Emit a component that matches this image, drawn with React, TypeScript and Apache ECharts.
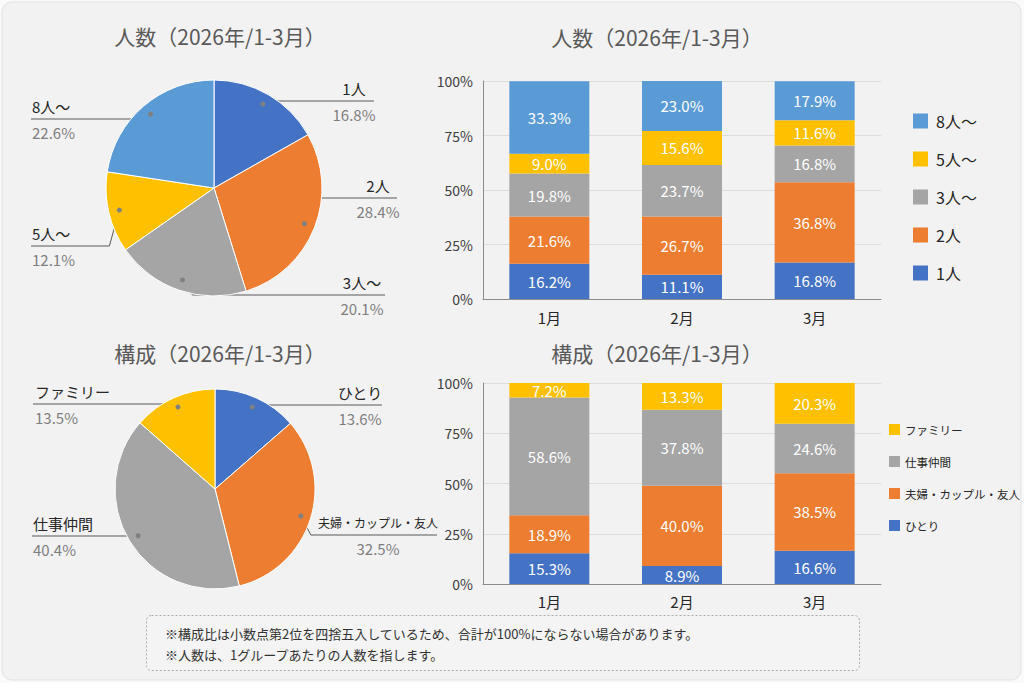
import React, { useEffect, useRef } from 'react';
import * as echarts from 'echarts';

// ---------- data ----------
const months = ['1月', '2月', '3月'];

const sizeNames = ['1人', '2人', '3人〜', '5人〜', '8人〜'];
const sizePieValues = [16.8, 28.4, 20.1, 12.1, 22.6];
const size1 = [16.2, 11.1, 16.8];
const size2 = [21.6, 26.7, 36.8];
const size3 = [19.8, 23.7, 16.8];
const size5 = [9.0, 15.6, 11.6];
const size8 = [33.3, 23.0, 17.9];

const compNames = ['ひとり', '夫婦・カップル・友人', '仕事仲間', 'ファミリー'];
const compPieValues = [13.6, 32.5, 40.4, 13.5];
const compSolo = [15.3, 8.9, 16.6];
const compCouple = [18.9, 40.0, 38.5];
const compWork = [58.6, 37.8, 24.6];
const compFamily = [7.2, 13.3, 20.3];

const titleSize = '人数（2026年/1-3月）';
const titleComp = '構成（2026年/1-3月）';
const notes = [
  '※構成比は小数点第2位を四捨五入しているため、合計が100%にならない場合があります。',
  '※人数は、1グループあたりの人数を指します。',
];

// ---------- styles / layout ----------
const FONT = "'Noto Sans CJK JP', 'Noto Sans', sans-serif";
const C_BLUE = '#4472C4';
const C_ORANGE = '#ED7D31';
const C_GRAY = '#A5A5A5';
const C_YELLOW = '#FFC000';
const C_LBLUE = '#5B9BD5';

const sizeColors = [C_BLUE, C_ORANGE, C_GRAY, C_YELLOW, C_LBLUE];
const compColors = [C_BLUE, C_ORANGE, C_GRAY, C_YELLOW];

const pie1Center = [214, 188];
const pie1Radius = 108;
const pie2Center = [215, 489];
const pie2Radius = 100;

type Anchor = { side: 'left' | 'right'; lineY: number; endX: number; textX: number; align: string };
const pie1Anchors: Anchor[] = [
  { side: 'right', lineY: 101, endX: 374, textX: 354, align: 'center' },
  { side: 'right', lineY: 198, endX: 397, textX: 378, align: 'center' },
  { side: 'right', lineY: 295, endX: 385, textX: 362, align: 'center' },
  { side: 'left', lineY: 246, endX: 31, textX: 32, align: 'left' },
  { side: 'left', lineY: 119, endX: 31, textX: 32, align: 'left' },
];
const pie2Anchors: Anchor[] = [
  { side: 'right', lineY: 405, endX: 382, textX: 360, align: 'center' },
  { side: 'right', lineY: 535, endX: 437, textX: 378, align: 'center' },
  { side: 'left', lineY: 536, endX: 32, textX: 33, align: 'left' },
  { side: 'left', lineY: 404, endX: 33, textX: 35, align: 'left' },
];

function dotPos(values: number[], i: number, center: number[], radius: number) {
  const total = values.reduce((a, b) => a + b, 0);
  let cum = 0;
  for (let k = 0; k < i; k++) cum += values[k];
  const mid = ((cum + values[i] / 2) / total) * Math.PI * 2;
  return [center[0] + Math.sin(mid) * radius * 0.9, center[1] - Math.cos(mid) * radius * 0.9];
}

function makeLabelLayout(values: number[], center: number[], radius: number, anchors: Anchor[]) {
  return (p: any) => {
    const i = p.dataIndex;
    const a = anchors[i];
    const [dx, dy] = dotPos(values, i, center, radius);
    const dir = a.side === 'right' ? 1 : -1;
    const bendX = Math.abs(dy - a.lineY) < 3 ? dx : dx + dir * 10;
    return {
      x: a.textX,
      y: a.lineY,
      align: a.align,
      verticalAlign: 'middle',
      labelLinePoints: [
        [dx, dy],
        [bendX, a.lineY],
        [a.endX, a.lineY],
      ],
    };
  };
}

function dots(values: number[], center: number[], radius: number) {
  return values.map((_, i) => {
    const [x, y] = dotPos(values, i, center, radius);
    return { type: 'circle', z: 100, shape: { cx: x, cy: y, r: 2.5 }, style: { fill: '#808080' } };
  });
}

const pieLabel = {
  show: true,
  position: 'outside',
  overflow: 'none',
  formatter: (p: any) => {
    const key = p.name.length > 6 ? 'ns' : 'n';
    return `{${key}|${p.name}}\n{p|${Number(p.value).toFixed(1)}%}`;
  },
  rich: {
    n: { fontSize: 15, color: '#262626', lineHeight: 26, fontFamily: FONT },
    ns: { fontSize: 12, color: '#262626', lineHeight: 26, fontFamily: FONT },
    p: { fontSize: 15, color: '#7f7f7f', lineHeight: 26, fontFamily: FONT },
  },
};

const pieLabelLine = { show: true, length: 10, length2: 10, lineStyle: { color: '#595959', width: 1 } };

function barSeries(name: string, data: number[], color: string, axisIdx: number) {
  return {
    type: 'bar',
    name,
    data,
    stack: 'stack' + axisIdx,
    xAxisIndex: axisIdx,
    yAxisIndex: axisIdx,
    barWidth: 80,
    itemStyle: { color },
    label: {
      show: true,
      position: 'inside',
      color: '#ffffff',
      fontSize: 15,
      fontFamily: FONT,
      formatter: (p: any) => Number(p.value).toFixed(1) + '%',
    },
    emphasis: { disabled: true },
  };
}

function yAxis(gridIndex: number) {
  return {
    type: 'value',
    gridIndex,
    min: 0,
    max: 100,
    interval: 25,
    axisLine: { show: true, lineStyle: { color: '#8c8c8c' } },
    axisTick: { show: false },
    axisLabel: { formatter: '{value}%', fontSize: 14, color: '#404040', margin: 10, fontFamily: FONT },
    splitLine: { lineStyle: { color: '#dcdcdc' } },
  };
}

function xAxis(gridIndex: number, margin: number) {
  return {
    type: 'category',
    gridIndex,
    data: months,
    axisLine: { show: true, lineStyle: { color: '#8c8c8c' } },
    axisTick: { show: false },
    axisLabel: { fontSize: 15, color: '#262626', margin, fontFamily: FONT },
  };
}

function titleText(text: string, x: number, y: number) {
  return {
    type: 'text',
    z: 50,
    x,
    y,
    style: { text, fill: '#595959', fontSize: 21, fontFamily: FONT, align: 'center', verticalAlign: 'middle' },
  };
}

const option: any = {
  animation: false,
  backgroundColor: '#fafafa',
  textStyle: { fontFamily: FONT },
  grid: [
    { left: 483, top: 81, width: 398, height: 218 },
    { left: 483, top: 383, width: 398, height: 201 },
  ],
  xAxis: [xAxis(0, 11), xAxis(1, 10)],
  yAxis: [yAxis(0), yAxis(1)],
  legend: [
    {
      data: [...sizeNames].reverse(),
      orient: 'vertical',
      left: 908,
      top: 108,
      itemWidth: 15,
      itemHeight: 15,
      itemGap: 22,
      icon: 'rect',
      selectedMode: false,
      textStyle: { fontSize: 16, lineHeight: 16, color: '#262626', fontFamily: FONT, padding: [0, 0, 0, 3] },
    },
    {
      data: [...compNames].reverse(),
      orient: 'vertical',
      left: 884,
      top: 418,
      itemWidth: 11,
      itemHeight: 11,
      itemGap: 19,
      icon: 'rect',
      selectedMode: false,
      textStyle: { fontSize: 11.5, lineHeight: 13, color: '#262626', fontFamily: FONT },
    },
  ],
  graphic: [
    {
      type: 'rect',
      z: -10,
      shape: { x: 2, y: 2, width: 1019, height: 678, r: 10 },
      style: { fill: '#f2f2f2', stroke: '#e2e2e2', lineWidth: 1 },
    },
    titleText(titleSize, 220, 36),
    titleText(titleSize, 657, 37),
    titleText(titleComp, 220, 353),
    titleText(titleComp, 657, 353),
    {
      type: 'rect',
      z: 1,
      shape: { x: 146.5, y: 615.5, width: 713, height: 55, r: 5 },
      style: { fill: '#f4f4f4', stroke: '#aaaaaa', lineWidth: 1, lineDash: [2, 2] },
    },
    ...notes.map((t, i) => ({
      type: 'text',
      z: 2,
      x: 165,
      y: 633 + i * 21,
      style: { text: t, fill: '#333333', fontSize: 13, fontFamily: FONT, verticalAlign: 'middle' },
    })),
    ...dots(sizePieValues, pie1Center, pie1Radius),
    ...dots(compPieValues, pie2Center, pie2Radius),
  ],
  series: [
    {
      type: 'pie',
      name: 'sizePie',
      center: pie1Center,
      radius: pie1Radius,
      startAngle: 90,
      clockwise: true,
      avoidLabelOverlap: false,
      color: sizeColors,
      itemStyle: { borderColor: '#ffffff', borderWidth: 1 },
      data: sizeNames.map((n, i) => ({ name: n, value: sizePieValues[i] })),
      label: pieLabel,
      labelLine: pieLabelLine,
      labelLayout: makeLabelLayout(sizePieValues, pie1Center, pie1Radius, pie1Anchors),
      emphasis: { disabled: true },
    },
    {
      type: 'pie',
      name: 'compPie',
      center: pie2Center,
      radius: pie2Radius,
      startAngle: 90,
      clockwise: true,
      avoidLabelOverlap: false,
      color: compColors,
      itemStyle: { borderColor: '#ffffff', borderWidth: 1 },
      data: compNames.map((n, i) => ({ name: n, value: compPieValues[i] })),
      label: pieLabel,
      labelLine: pieLabelLine,
      labelLayout: makeLabelLayout(compPieValues, pie2Center, pie2Radius, pie2Anchors),
      emphasis: { disabled: true },
    },
    barSeries(sizeNames[0], size1, sizeColors[0], 0),
    barSeries(sizeNames[1], size2, sizeColors[1], 0),
    barSeries(sizeNames[2], size3, sizeColors[2], 0),
    barSeries(sizeNames[3], size5, sizeColors[3], 0),
    barSeries(sizeNames[4], size8, sizeColors[4], 0),
    barSeries(compNames[0], compSolo, compColors[0], 1),
    barSeries(compNames[1], compCouple, compColors[1], 1),
    barSeries(compNames[2], compWork, compColors[2], 1),
    barSeries(compNames[3], compFamily, compColors[3], 1),
  ],
};

export default function App() {
  const ref = useRef<HTMLDivElement>(null);
  useEffect(() => {
    if (!ref.current) return;
    const chart = echarts.init(ref.current, null, { renderer: 'svg' });
    chart.setOption(option);
    return () => chart.dispose();
  }, []);
  return (
    <div
      ref={ref}
      style={{ position: 'absolute', left: 0, top: 0, width: 1024, height: 683 }}
    />
  );
}
